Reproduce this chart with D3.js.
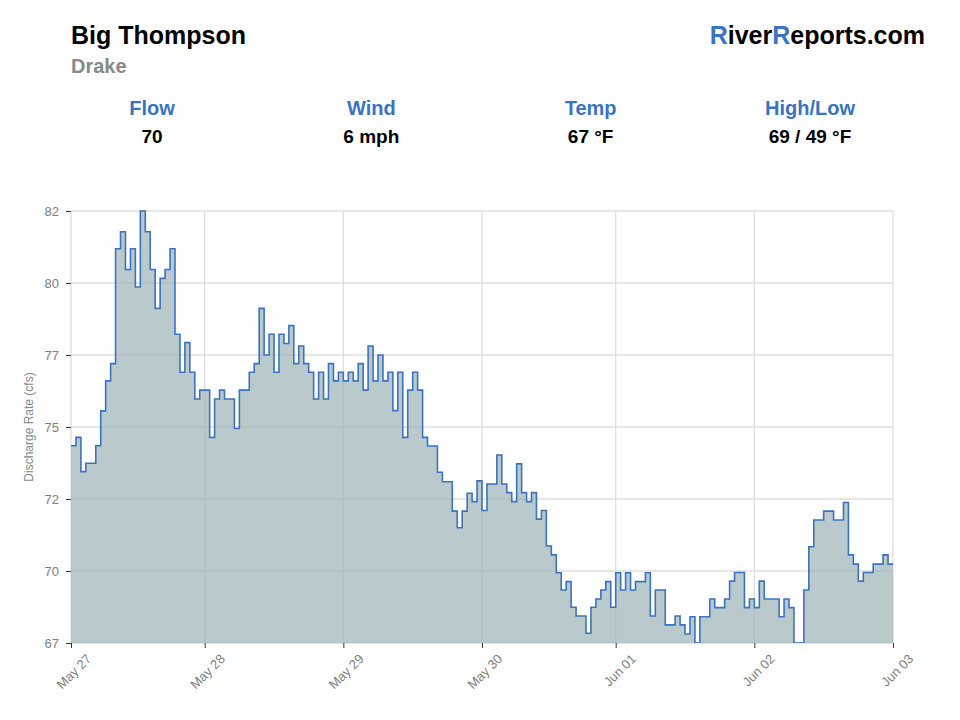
<!DOCTYPE html>
<html>
<head>
<meta charset="utf-8">
<script src="https://cdn.jsdelivr.net/npm/d3@7"></script>
<style>
    body { margin: 0; background: #fff; font-family: "Liberation Sans", Arial, Helvetica, sans-serif; }
    .axis text { font-family: "Liberation Sans", Arial, sans-serif; font-size: 13px; fill: #808080; }
    .axis line { stroke: #333; }
    .axis path { display: none; }
    .grid line { stroke: #dedede; stroke-width: 1.3; }
</style>
</head>
<body>
<svg id="chart"></svg>
<script>
// header info
const riverName = 'Big Thompson'
const stationName = 'Drake'
const statLabels = ['Flow', 'Wind', 'Temp', 'High/Low']
const statValues = ['70', '6 mph', '67 °F', '69 / 49 °F']

// discharge readings (cfs), one per step
const flowValues = [
    73.85, 74.14, 72.95, 73.24, 73.24, 73.85, 75.06, 76.1, 76.7, 80.69,
    81.28, 79.97, 80.69, 79.36, 82.0, 81.28, 79.97, 78.62, 79.66, 79.97,
    80.69, 77.72, 76.4, 77.43, 76.4, 75.47, 75.78, 75.78, 74.14, 75.47,
    75.78, 75.47, 75.47, 74.45, 75.78, 75.78, 76.4, 76.7, 78.62, 77.0,
    77.72, 76.4, 77.72, 77.4, 78.02, 76.7, 77.31, 76.7, 76.4, 75.47,
    76.4, 75.47, 76.7, 76.1, 76.4, 76.1, 76.4, 76.1, 76.7, 75.78,
    77.31, 76.1, 77.0, 76.1, 76.4, 75.07, 76.4, 74.14, 75.78, 76.4,
    75.78, 74.14, 73.84, 73.84, 72.93, 72.6, 72.6, 71.58, 71.0, 71.58,
    72.2, 71.91, 72.63, 71.6, 72.52, 72.52, 73.53, 72.52, 72.22, 71.91,
    73.22, 72.22, 71.91, 72.22, 71.3, 71.6, 70.37, 70.06, 69.44, 68.84,
    69.13, 68.24, 67.94, 67.94, 67.34, 68.24, 68.53, 68.84, 69.13, 68.24,
    69.44, 68.84, 69.44, 68.84, 69.13, 69.13, 69.44, 67.94, 68.84, 68.84,
    67.63, 67.63, 67.94, 67.63, 67.31, 67.91, 67.0, 67.91, 67.91, 68.53,
    68.23, 68.23, 68.53, 69.15, 69.45, 69.45, 68.23, 68.53, 68.23, 69.15,
    68.53, 68.53, 68.53, 67.91, 68.53, 68.23, 67.0, 67.0, 68.84, 70.34,
    71.27, 71.27, 71.58, 71.58, 71.27, 71.27, 71.88, 70.06, 69.74, 69.15,
    69.45, 69.45, 69.74, 69.74, 70.06, 69.74
]

// axis ticks
const xTickSteps = [0, 27, 55, 83, 110, 138, 166]
const xTickLabels = ['May 27', 'May 28', 'May 29', 'May 30', 'Jun 01', 'Jun 02', 'Jun 03']
const yTickValues = [67, 69.5, 72, 74.5, 77, 79.5, 82]
const yTickLabels = ['67', '70', '72', '75', '77', '80', '82']

const blue = '#3a74c1'
const margin = {top: 211, right: 67, bottom: 77, left: 71}
const containerWidth = 960
const containerHeight = 720
const width = containerWidth - margin.left - margin.right
const height = containerHeight - margin.top - margin.bottom

const svg = d3.select('#chart')
    .attr('width', containerWidth)
    .attr('height', containerHeight)

// header
svg.append('text')
    .attr('x', 71).attr('y', 44)
    .attr('font-size', 25).attr('font-weight', 'bold').attr('fill', '#000')
    .text(riverName)

svg.append('text')
    .attr('x', 71).attr('y', 73)
    .attr('font-size', 20).attr('font-weight', 'bold').attr('fill', '#888')
    .text(stationName)

const brand = svg.append('text')
    .attr('x', 925).attr('y', 44)
    .attr('text-anchor', 'end')
    .attr('font-size', 25).attr('font-weight', 'bold').attr('fill', '#000')
brand.append('tspan').attr('fill', blue).text('R')
brand.append('tspan').text('iver')
brand.append('tspan').attr('fill', blue).text('R')
brand.append('tspan').text('eports.com')

const statX = d3.scalePoint()
    .domain(statLabels)
    .range([152, 810])

svg.selectAll('.stat-label')
    .data(statLabels)
    .join('text')
        .attr('class', 'stat-label')
        .attr('x', d => statX(d)).attr('y', 115)
        .attr('text-anchor', 'middle')
        .attr('font-size', 20).attr('font-weight', 'bold').attr('fill', blue)
        .text(d => d)

svg.selectAll('.stat-value')
    .data(statValues)
    .join('text')
        .attr('class', 'stat-value')
        .attr('x', (d, i) => statX(statLabels[i])).attr('y', 143)
        .attr('text-anchor', 'middle')
        .attr('font-size', 19).attr('font-weight', 'bold').attr('fill', '#000')
        .text(d => d)

// chart
const g = svg.append('g')
    .attr('transform', `translate(${margin.left},${margin.top})`)

const xScale = d3.scaleLinear()
    .domain([0, flowValues.length])
    .range([0, width])

const yScale = d3.scaleLinear()
    .domain([67, 82])
    .range([height, 0])

// grid
g.append('g').attr('class', 'grid')
    .selectAll('line.h')
    .data(yTickValues)
    .join('line')
        .attr('x1', 0).attr('x2', width)
        .attr('y1', d => yScale(d)).attr('y2', d => yScale(d))

g.append('g').attr('class', 'grid')
    .selectAll('line.v')
    .data(xTickSteps)
    .join('line')
        .attr('x1', d => xScale(d)).attr('x2', d => xScale(d))
        .attr('y1', 0).attr('y2', height)

g.append('clipPath').attr('id', 'plot-clip')
    .append('rect')
        .attr('x', 0).attr('y', -1)
        .attr('width', width).attr('height', height + 1)

// step points, last value held to the right edge
const points = flowValues.map((v, i) => ({i: i, v: v}))
points.push({i: flowValues.length, v: flowValues[flowValues.length - 1]})

const area = d3.area()
    .curve(d3.curveStepAfter)
    .x(d => xScale(d.i))
    .y0(height)
    .y1(d => yScale(d.v))

const line = d3.line()
    .curve(d3.curveStepAfter)
    .x(d => xScale(d.i))
    .y(d => yScale(d.v))

const plot = g.append('g').attr('clip-path', 'url(#plot-clip)')

plot.append('path')
    .datum(points)
    .attr('d', area)
    .attr('fill', '#9fb6b9')
    .attr('fill-opacity', 0.72)

plot.append('path')
    .datum(points)
    .attr('d', line)
    .attr('fill', 'none')
    .attr('stroke', '#3b73bf')
    .attr('stroke-width', 1.6)

// axes
const yAxis = d3.axisLeft(yScale)
    .tickValues(yTickValues)
    .tickFormat((d, i) => yTickLabels[i])
    .tickSize(5)
    .tickPadding(7)

g.append('g')
    .attr('class', 'axis y-axis')
    .call(yAxis)

const xAxis = d3.axisBottom(xScale)
    .tickValues(xTickSteps)
    .tickFormat((d, i) => xTickLabels[i])
    .tickSize(5)

g.append('g')
    .attr('class', 'axis x-axis')
    .attr('transform', `translate(0,${height})`)
    .call(xAxis)
    .selectAll('text')
        .attr('text-anchor', 'end')
        .attr('dy', 0)
        .attr('transform', 'translate(15,11) rotate(-45)')

// y title
g.append('text')
    .attr('transform', `translate(-38,${height / 2}) rotate(-90)`)
    .attr('text-anchor', 'middle')
    .attr('font-size', 12).attr('fill', '#888')
    .text('Discharge Rate (cfs)')
</script>
</body>
</html>
